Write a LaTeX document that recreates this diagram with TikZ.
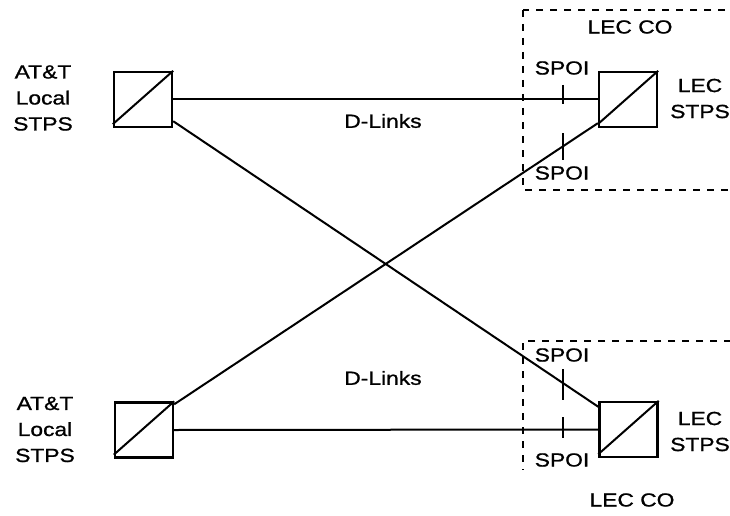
\documentclass[tikz,border=0pt]{standalone}
\usepackage{fontspec}
\setmainfont{Liberation Sans}[FakeStretch=1.2,FakeBold=1]
\begin{document}
\begin{tikzpicture}[x=1pt,y=-1pt,
  lbl/.style={inner sep=0pt,align=center,font=\fontsize{19}{26}\selectfont},
  stp/.style={draw,line width=2.4pt,minimum width=58pt,minimum height=55pt,inner sep=0pt},
  link/.style={line width=2pt},
  tick/.style={line width=1.2pt},
  region/.style={line width=1.1pt,dash pattern=on 7pt off 7pt}]
\useasboundingbox (0,0) rectangle (730,516);
\clip (0,0) rectangle (730,516);
% boxes
\node[stp] (tl) at (143,99.5) {};
\node[stp] (tr) at (628,99.5) {};
\node[stp] (bl) at (144,430) {};
\node[stp] (br) at (628.5,429.5) {};
\foreach \b in {tl,tr,bl,br}{\draw[line width=2pt] ([yshift=4pt]\b.south west) -- (\b.north east);}
% connector end points
\coordinate (tlx) at ([yshift=7pt]tl.south east);
\coordinate (brx) at ([yshift=-6pt]br.north west);
\coordinate (blx) at ([yshift=-3pt]bl.north east);
\coordinate (trx) at ([yshift=5pt]tr.south west);
% links
\draw[link] (tl.east) -- (tr.west);
\draw[link] (bl.east) -- (br.west);
\draw[link] (tlx) -- (brx);
\draw[link] (blx) -- (trx);
% SPOI ticks
\coordinate (t1a) at (563,85); \coordinate (t1b) at (563,104);
\coordinate (t2a) at (563,133); \coordinate (t2b) at (563,160);
\coordinate (t3a) at (563,369); \coordinate (t3b) at (563,400);
\coordinate (t4a) at (563,417); \coordinate (t4b) at (563,438);
\draw[tick] (t1a) -- (t1b);
\draw[tick] (t2a) -- (t2b);
\draw[tick] (t3a) -- (t3b);
\draw[tick] (t4a) -- (t4b);
% regions
\coordinate (r1a) at (523,10); \coordinate (r1b) at (745,190);
\draw[region] (r1a) rectangle (r1b);
\coordinate (r2a) at (745,341); \coordinate (r2b) at (523,341); \coordinate (r2c) at (523,470);
\draw[region] (r2a) -- (r2b) -- (r2c);
% labels
\node[lbl] (atl) at (43,98) {AT\&T\\Local\\STPS};
\node[lbl] (abl) at (45,429.5) {AT\&T\\Local\\STPS};
\node[lbl] (ltr) at (700,98.5) {LEC\\STPS};
\node[lbl] (lbr) at (700,431.5) {LEC\\STPS};
\node[lbl] (co1) at (630,27) {LEC CO};
\node[lbl] (co2) at (632,500) {LEC CO};
\node[lbl] (s1) at (562,68) {SPOI};
\node[lbl] (s2) at (562,173) {SPOI};
\node[lbl] (s3) at (562,355) {SPOI};
\node[lbl] (s4) at (562,460) {SPOI};
\node[lbl] (d1) at (383,121) {D-Links};
\node[lbl] (d2) at (383,378) {D-Links};
\end{tikzpicture}
\end{document}
